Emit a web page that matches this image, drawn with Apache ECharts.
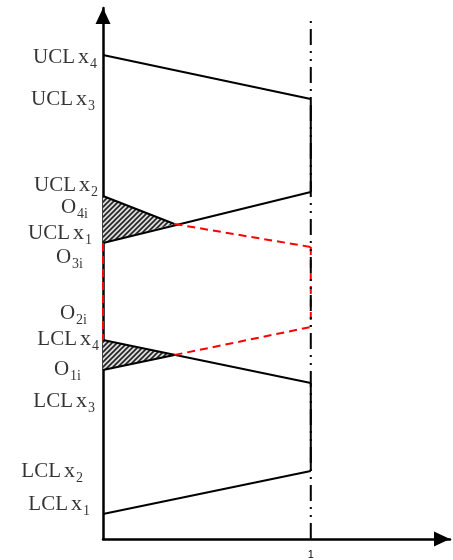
<!DOCTYPE html>
<html>
<head>
<meta charset="utf-8">
<script src="https://cdn.jsdelivr.net/npm/echarts@6/dist/echarts.min.js"></script>
<style>html,body{margin:0;padding:0;background:#fff}#c{width:453px;height:560px}</style>
</head>
<body>
<div id="c"></div>
<script>
// ---- data (arbitrary units; x: 0 = start, 1 = boundary) ----
const xTickLabels = ['', '1'];
const boundaryX = 1;

// solid black limit lines: [x0, y0, x1, y1]
const uclX4Line = [0, 484, 1, 440];
const uclRight  = [1, 440, 1, 347];
const uclX1Line = [0, 296, 1, 347];
const uclX2Seg  = [0, 343, 0.344, 315];
const lclX4Line = [0, 199, 1, 156];
const o1Seg     = [0, 169, 0.344, 184];
const lclRight  = [1, 156, 1, 68];
const lclX1Line = [0, 25, 1, 68];

// red dashed lines
const redUpper  = [0.344, 315, 1, 292];
const redLower  = [0.344, 184, 1, 212];
const redLeft   = [0, 296, 0, 199];
const redRight  = [1, 292, 1, 212];

// boundary dash-dot line
const boundaryLine = [1, 0, 1, 521];

// hatched triangles
const triUpper = [[0, 343], [0.344, 315], [0, 296]];
const triLower = [[0, 199], [0.344, 184], [0, 169]];

// level labels
const labelMain = ['UCL','UCL','UCL','O','UCL','O','O','LCL','O','LCL','LCL','LCL'];
const labelVar  = ['x','x','x','','x','','','x','','x','x','x'];
const labelSub  = ['4','3','2','4i','1','3i','2i','4','1i','3','2','1'];
const labelY    = [482, 440, 354, 332, 306, 282, 226, 200, 170, 138, 68, 35];
// style: gap from axis for each label
const labelGap  = [6, 8, 5, 15, 11, 20, 16, 4, 22, 8, 20, 13];

// ---- chart ----
const chart = echarts.init(document.getElementById('c'));

function seg(a) { return [[a[0], a[1]], [a[2], a[3]]]; }
function lineSeries(a, color, type, width) {
  return {
    type: 'line', data: seg(a), symbol: 'none', silent: true,
    lineStyle: { color: color, type: type, width: width }, z: 3, animation: false
  };
}

// hatch pattern
const pc = document.createElement('canvas');
pc.width = 5; pc.height = 5;
const pctx = pc.getContext('2d');
pctx.fillStyle = '#dcdcdc';
pctx.fillRect(0, 0, 5, 5);
pctx.strokeStyle = '#222';
pctx.lineWidth = 1.6;
pctx.beginPath();
pctx.moveTo(-1, 6); pctx.lineTo(6, -1);
pctx.moveTo(-3, 3); pctx.lineTo(3, -3);
pctx.moveTo(2, 8); pctx.lineTo(8, 2);
pctx.stroke();

const triangles = [triUpper, triLower];

const series = [];
series.push({
  type: 'custom', silent: true, animation: false, z: 2,
  data: triangles.map((t, i) => [i]),
  renderItem: function (params, api) {
    const t = triangles[params.dataIndex];
    return {
      type: 'polygon',
      shape: { points: t.map(p => api.coord(p)) },
      style: { fill: { image: pc, repeat: 'repeat' }, stroke: null }
    };
  }
});

[uclX4Line, uclRight, uclX1Line, uclX2Seg, lclX4Line, o1Seg, lclRight, lclX1Line]
  .forEach(a => series.push(lineSeries(a, '#000', 'solid', 2)));
[redUpper, redLower, redLeft, redRight]
  .forEach(a => series.push(lineSeries(a, '#ff0000', [8, 5], 2)));
series.push(lineSeries(boundaryLine, '#000', [16, 6, 2, 6, 2, 6], 2));

series.push({
  type: 'scatter', silent: true, animation: false, symbolSize: 0,
  data: labelY.map((y, i) => ({
    value: [0, y],
    label: {
      show: true, position: 'left', distance: labelGap[i],
      formatter: '{m|' + labelMain[i] + '}' + (labelVar[i] ? '{x|' + labelVar[i] + '}' : '') + '{s|' + labelSub[i] + '}'
    }
  })),
  label: {
    color: '#000',
    rich: {
      m: { fontFamily: 'Liberation Serif', fontSize: 21, lineHeight: 21, color: '#000', verticalAlign: 'top' },
      x: { fontFamily: 'Liberation Serif', fontSize: 22, lineHeight: 21, color: '#000', verticalAlign: 'top', padding: [0, 0, 0, 3] },
      s: { fontFamily: 'Liberation Serif', fontSize: 14, lineHeight: 14, color: '#000', verticalAlign: 'top', padding: [11, 0, 0, 1] }
    }
  }
});

chart.setOption({
  animation: false,
  grid: { left: 103, right: 1, top: 8, bottom: 21 },
  xAxis: {
    type: 'value', min: 0, max: 1.67, interval: boundaryX,
    splitLine: { show: false },
    axisTick: { show: false },
    axisLine: { show: true, symbol: ['none', 'triangle'], symbolSize: [15, 16], symbolOffset: [0, -8], lineStyle: { color: '#000', width: 2.5 } },
    axisLabel: {
      color: '#000', fontSize: 11, margin: 10, fontFamily: 'Liberation Sans',
      formatter: function (v) { return xTickLabels[Math.round(v)] || ''; }
    }
  },
  yAxis: {
    type: 'value', min: 0, max: 531,
    splitLine: { show: false },
    axisTick: { show: false },
    axisLabel: { show: false },
    axisLine: { show: true, symbol: ['none', 'triangle'], symbolSize: [15, 16], symbolOffset: [0, -8], lineStyle: { color: '#000', width: 2.5 } }
  },
  series: series
});
</script>
</body>
</html>
